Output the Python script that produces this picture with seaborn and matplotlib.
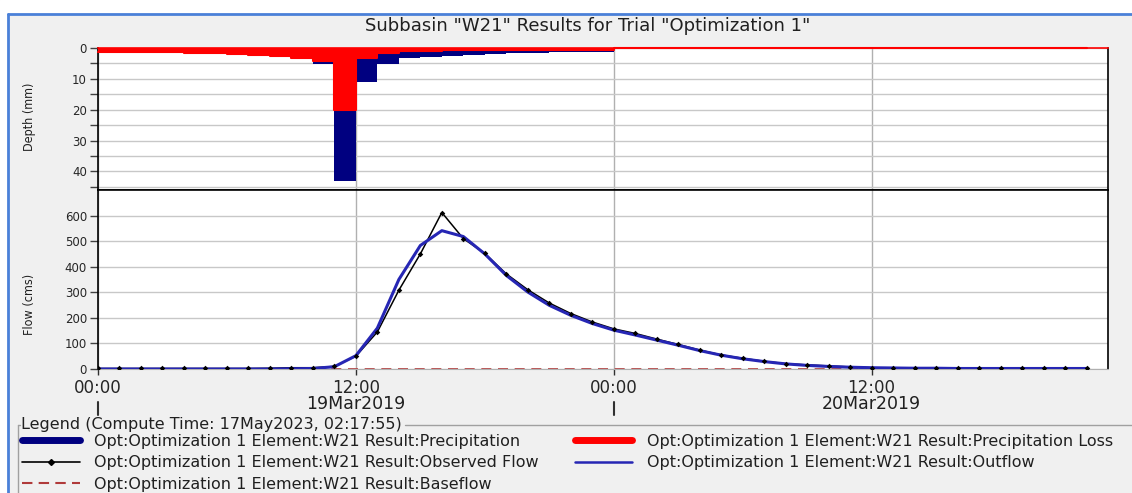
import matplotlib
matplotlib.use("Agg")
import matplotlib.pyplot as plt
from matplotlib.lines import Line2D
from matplotlib.patches import Rectangle
import pandas as pd
import seaborn as sns

# hourly data, 19Mar2019 00:00 onwards
hours = list(range(47))
precip = [1.3, 1.3, 1.3, 1.4, 1.6, 1.7, 2.1, 2.2, 2.7, 3.2, 5.2, 43.0, 11.0, 5.2, 3.2, 2.8,
          2.5, 2.2, 1.9, 1.7, 1.5, 1.4, 1.3, 1.2, 0, 0, 0, 0, 0, 0, 0, 0,
          0, 0, 0, 0, 0, 0, 0, 0, 0, 0, 0, 0, 0, 0, 0]
precip_loss = [1.3, 1.3, 1.3, 1.4, 1.6, 1.7, 2.1, 2.2, 2.7, 3.2, 4.3, 20.0, 3.3, 1.6, 1.0, 0.9,
               0.8, 0.7, 0.7, 0.6, 0.6, 0.5, 0.5, 0.5, 0, 0, 0, 0, 0, 0, 0, 0,
               0, 0, 0, 0, 0, 0, 0, 0, 0, 0, 0, 0, 0, 0, 0]
observed_flow = [2, 2, 2, 2, 2, 2, 2, 2, 3, 5, 5, 10, 50, 145, 308, 450,
                 612, 510, 452, 372, 310, 258, 217, 184, 157, 139, 117, 96, 74, 55, 42, 30,
                 21, 16, 12, 8, 5, 4, 4, 3, 3, 3, 3, 3, 3, 3, 2]
outflow = [0, 0, 0, 0, 0, 0, 0, 0, 0, 1, 2, 9, 52, 160, 350, 483,
           541, 518, 450, 366, 301, 249, 210, 178, 152, 133, 113, 93, 72, 54, 40, 29,
           20, 14, 10, 7, 5, 4, 3, 3, 2, 2, 2, 2, 2, 2, 2]
baseflow = [0, 0, 0, 0, 0, 0, 0, 0, 0, 0, 0, 0, 0, 0, 0, 0,
            0, 0, 0, 0, 0, 0, 0, 0, 0, 0, 0, 0, 0, 0, 0, 0,
            0, 0, 0, 0, 0, 0, 0, 0, 0, 0, 0, 0, 0, 0, 0]

time_ticks = [0, 12, 24, 36]
time_labels = ["00:00", "12:00", "00:00", "12:00"]
date_labels = ["19Mar2019", "20Mar2019"]
date_centers = [12, 36]
day_starts = [0, 24]

prefix = "Opt:Optimization 1 Element:W21 Result:"
title = 'Subbasin "W21" Results for Trial "Optimization 1"'
legend_title = "Legend (Compute Time: 17May2023, 02:17:55)"

PRECIP_C = "#000080"
LOSS_C = "#ff0000"
OUT_C = "#2626b4"
BASE_C = "#b03a3a"
GRID_C = "#c8c8c8"

sns.set_theme(style="white")
plt.rcParams["font.family"] = ["DejaVu Sans"]

W, H = 1132, 493
def fx(px):
    return px / W
def fy(py):
    return 1 - py / H

fig = plt.figure(figsize=(W / 100, H / 100), dpi=100, facecolor="#f0f0f0")
# window frame
fig.add_artist(Rectangle((0, 0), fx(8), 1, transform=fig.transFigure, color="white", zorder=0))
fig.add_artist(Rectangle((0, fy(14)), 1, 1 - fy(14), transform=fig.transFigure, color="white", zorder=0))
fig.add_artist(Line2D([fx(8), fx(8)], [0, fy(14)], color="#4a80d8", lw=2))
fig.add_artist(Line2D([fx(8), 1], [fy(14), fy(14)], color="#4a80d8", lw=2))

ax_p = fig.add_axes([fx(98), fy(190), fx(1108) - fx(98), fy(48) - fy(190)])
ax_q = fig.add_axes([fx(98), fy(369), fx(1108) - fx(98), fy(190) - fy(369)], sharex=ax_p)

df = pd.DataFrame({"hour": hours, "precip": precip, "loss": precip_loss,
                   "observed": observed_flow, "outflow": outflow, "baseflow": baseflow})

# --- depth panel
ax_p.set_axisbelow(True)
ax_p.bar(df["hour"], df["precip"], width=1, align="edge", color=PRECIP_C, linewidth=0, zorder=2)
ax_p.bar(df["hour"], df["loss"], width=1, align="edge", color=LOSS_C, linewidth=0, zorder=3)
sns.lineplot(data=df, x="hour", y="loss", drawstyle="steps-post", color=LOSS_C, lw=1.5,
             ax=ax_p, zorder=4, clip_on=False)
ax_p.set_xlim(0, 47)
ax_p.set_ylim(46, 0)
ax_p.set_yticks([0, 10, 20, 30, 40])
ax_p.set_yticks([5, 15, 25, 35, 45], minor=True)
ax_p.set_xticks(time_ticks)
ax_p.grid(axis="y", which="both", color=GRID_C, lw=1)
ax_p.grid(axis="x", which="major", color="#b0b0b0", lw=1)
ax_p.tick_params(axis="x", which="both", length=0, labelbottom=False)
ax_p.tick_params(axis="y", which="both", direction="out", length=6, width=1,
                 color="#404040", labelsize=8.5, pad=2, left=True)
ax_p.set_xlabel("")
ax_p.set_ylabel("")

# --- flow panel
ax_q.set_axisbelow(True)
sns.lineplot(data=df, x="hour", y="baseflow", color=BASE_C, lw=1.2, ax=ax_q,
             dashes=False, zorder=2, clip_on=False, linestyle=(0, (6, 4)))
sns.lineplot(data=df, x="hour", y="observed", color="black", lw=1.1, ax=ax_q, zorder=3)
sns.lineplot(data=df, x="hour", y="outflow", color=OUT_C, lw=2.2, ax=ax_q, zorder=4)
sns.scatterplot(data=df, x="hour", y="observed", color="black", marker="D", s=8,
                linewidth=0, ax=ax_q, zorder=5)
ax_q.set_ylim(0, 700)
ax_q.set_yticks(range(0, 700, 100))
ax_q.set_xticks(time_ticks)
ax_q.set_xticklabels(time_labels)
ax_q.grid(axis="y", color=GRID_C, lw=1)
ax_q.grid(axis="x", color="#b0b0b0", lw=1)
ax_q.tick_params(axis="x", direction="out", length=4, width=1, color="#303030",
                 labelsize=12, pad=3, bottom=True)
ax_q.tick_params(axis="y", direction="out", length=6, width=1, color="#404040",
                 labelsize=8.5, pad=2, left=True)
ax_q.set_xlabel("")
ax_q.set_ylabel("")
ax_q.set_xlim(0, 47)

for ax in (ax_p, ax_q):
    for s in ax.spines.values():
        s.set_color("black")
        s.set_linewidth(1.2)
ax_p.spines["top"].set_color(LOSS_C)
ax_q.spines["bottom"].set_color("#b0b0b0")
ax_q.spines["bottom"].set_linewidth(0.8)

xt = ax_q.get_xaxis_transform()
for c, lab in zip(date_centers, date_labels):
    ax_q.text(c, -0.198, lab, transform=xt, ha="center", va="center", fontsize=12.5, color="#202020")
for d in day_starts:
    ax_q.plot([d, d], [-0.184, -0.257], transform=xt, color="#303030", lw=1.5, clip_on=False)

fig.text(fx(29), fy(117), "Depth (mm)", rotation=90, ha="center", va="center", fontsize=9,
         fontstretch="condensed", color="#202020")
fig.text(fx(29), fy(304), "Flow (cms)", rotation=90, ha="center", va="center", fontsize=9,
         fontstretch="condensed", color="#202020")
fig.text(fx(588), fy(26), title, ha="center", va="center", fontsize=13, color="#202020")

# --- legend group box
lt = fig.text(fx(21), fy(424), legend_title, ha="left", va="center", fontsize=11.5, color="#202020")
fig.canvas.draw()
bb = lt.get_window_extent(fig.canvas.get_renderer())
fig.add_artist(Line2D([fx(18), fx(18)], [0, fy(425)], color="#a0a0a0", lw=1))
fig.add_artist(Line2D([fx(18), fx(20)], [fy(425), fy(425)], color="#a0a0a0", lw=1))
fig.add_artist(Line2D([(bb.x1 + 3) / W, 1], [fy(425), fy(425)], color="#a0a0a0", lw=1))

h_precip = Line2D([], [], color=PRECIP_C, lw=5)
h_loss = Line2D([], [], color=LOSS_C, lw=5)
h_obs = Line2D([], [], color="black", lw=1.2, marker="D", markersize=3)
h_out = Line2D([], [], color=OUT_C, lw=1.8)
h_base = Line2D([], [], color=BASE_C, lw=1.5, linestyle=(0, (5, 3)))

leg_kw = dict(loc="upper left", frameon=False, fontsize=11.5, handlelength=3.6,
              handletextpad=0.9, labelspacing=0.4, borderpad=0, borderaxespad=0,
              labelcolor="#202020")
leg1 = fig.legend([h_precip, h_obs, h_base],
                  [prefix + "Precipitation", prefix + "Observed Flow", prefix + "Baseflow"],
                  bbox_to_anchor=(fx(22), fy(434)), **leg_kw)
leg2 = fig.legend([h_loss, h_out],
                  [prefix + "Precipitation Loss", prefix + "Outflow"],
                  bbox_to_anchor=(fx(575), fy(434)), **leg_kw)

fig.savefig("out.png", dpi=100, facecolor=fig.get_facecolor())
